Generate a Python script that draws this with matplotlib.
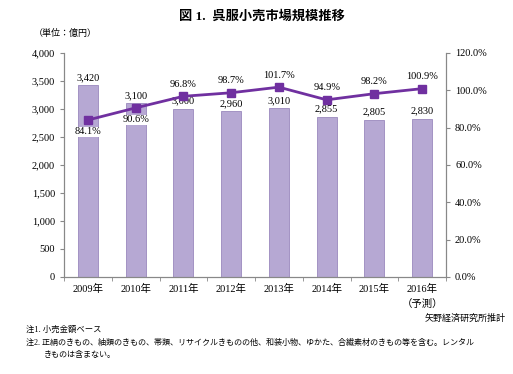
import numpy as np
import matplotlib.pyplot as plt
from matplotlib.ticker import FuncFormatter, FixedLocator

plt.rcParams['font.family'] = ['Liberation Serif', 'Noto Sans CJK JP']

# data
years = ['2009年', '2010年', '2011年', '2012年', '2013年', '2014年', '2015年', '2016年\n（予測）']
market = [3420, 3100, 3000, 2960, 3010, 2855, 2805, 2830]
ratio = [84.1, 90.6, 96.8, 98.7, 101.7, 94.9, 98.2, 100.9]

fig = plt.figure(figsize=(5.13, 3.74), dpi=100)
ax = fig.add_axes([0.1248, 0.2594, 0.7446, 0.5989])
x = np.arange(len(years))

ax.bar(x, market, width=0.42, color='#b6a8d3', edgecolor='#9a88bd', linewidth=0.6, zorder=2)
for xi, v in zip(x, market):
    ax.text(xi, v + 60, f'{v:,}', ha='center', va='bottom', fontsize=7.5, zorder=5)

ax.set_xlim(-0.5, 7.5)
ax.set_ylim(0, 4000)
ax.set_yticks(np.arange(0, 4001, 500))
ax.yaxis.set_major_formatter(FuncFormatter(lambda v, p: f'{int(v):,}'))
ax.set_xticks(x)
ax.set_xticklabels(years, fontsize=7.5, linespacing=1.6, va='top')
ax.xaxis.set_minor_locator(FixedLocator(np.arange(-0.5, 8, 1)))
ax.tick_params(axis='x', which='major', length=0, pad=5)
ax.tick_params(axis='x', which='minor', length=3, color='#888888')
ax.tick_params(axis='y', labelsize=7.5, length=3, color='#888888')
ax.spines['top'].set_visible(False)
for s in ['left', 'bottom', 'right']:
    ax.spines[s].set_color('#888888')

ax2 = ax.twinx()
ax2.plot(x, ratio, color='#7030a0', linewidth=2, marker='s', markersize=6, zorder=4)
ax2.set_ylim(0, 120)
ax2.set_yticks(np.arange(0, 121, 20))
ax2.yaxis.set_major_formatter(FuncFormatter(lambda v, p: f'{v:.1f}%'))
ax2.tick_params(axis='y', labelsize=7.5, length=3, color='#888888')
ax2.spines['top'].set_visible(False)
for s in ['left', 'bottom', 'right']:
    ax2.spines[s].set_color('#888888')
for i, (xi, r) in enumerate(zip(x, ratio)):
    if i < 2:
        ax2.text(xi, r - 4, f'{r}%', ha='center', va='top', fontsize=7.5,
                 bbox=dict(facecolor='white', edgecolor='none', pad=0.5))
    else:
        ax2.text(xi, r + 4, f'{r}%', ha='center', va='bottom', fontsize=7.5)

fig.text(0.51, 0.955, '図 1.  呉服小売市場規模推移', ha='center', va='center',
         fontsize=9.5, fontweight='bold')
fig.text(0.065, 0.91, '（単位：億円）', ha='left', va='center', fontsize=6.5)
fig.text(0.985, 0.148, '矢野経済研究所推計', ha='right', va='center', fontsize=6.5)
fig.text(0.05, 0.117, '注1. 小売金額ベース', ha='left', va='center', fontsize=6)
fig.text(0.05, 0.083, '注2. 正絹のきもの、紬類のきもの、帯類、リサイクルきものの他、和装小物、ゆかた、合繊素材のきもの等を含む。レンタル',
         ha='left', va='center', fontsize=5.8)
fig.text(0.085, 0.05, 'きものは含まない。', ha='left', va='center', fontsize=5.8)

plt.savefig('out.png', dpi=100)
